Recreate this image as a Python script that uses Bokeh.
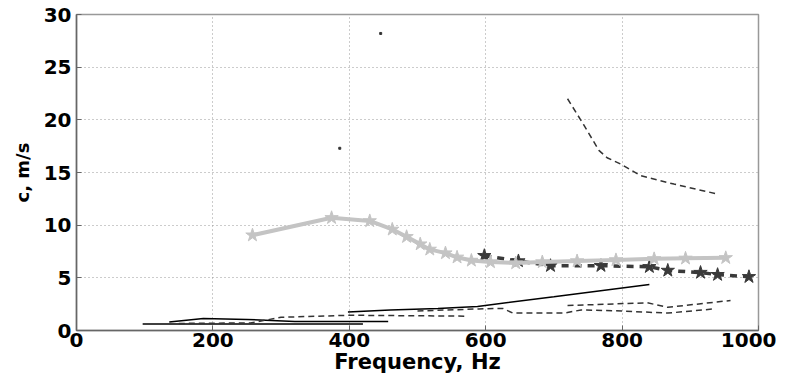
from bokeh.plotting import figure
from bokeh.embed import file_html
from bokeh.resources import INLINE
from bokeh.models import Range1d, FixedTicker

# ---- data ----
solid_a_f = [97, 420]
solid_a_c = [0.62, 0.62]

solid_b_f = [136, 186, 250, 320, 457]
solid_b_c = [0.8, 1.15, 1.05, 0.85, 0.85]

solid_c_f = [398, 460, 530, 588, 700, 840]
solid_c_c = [1.75, 1.95, 2.1, 2.28, 3.2, 4.37]

dash_a_f = [150, 255, 300, 400, 570]
dash_a_c = [0.67, 0.72, 1.25, 1.45, 1.36]

dash_b_f = [500, 590, 625, 640, 715, 740, 800, 867, 935]
dash_b_c = [1.85, 2.05, 2.1, 1.65, 1.65, 1.95, 1.85, 1.65, 2.05]

dash_c_f = [720, 837, 867, 959]
dash_c_c = [2.37, 2.63, 2.2, 2.85]

dash_top_f = [720, 744, 766, 778, 798, 827, 876, 937]
dash_top_c = [22.0, 19.5, 17.1, 16.4, 15.8, 14.7, 13.9, 13.0]

light_f = [258, 374, 430, 463, 484, 504, 518, 541, 558, 579, 607, 644, 683, 734, 791, 847, 893, 952]
light_c = [9.05, 10.7, 10.4, 9.6, 8.9, 8.2, 7.7, 7.35, 6.95, 6.65, 6.5, 6.4, 6.5, 6.6, 6.7, 6.8, 6.85, 6.9]

dark_f = [598, 648, 695, 769, 840, 867, 915, 940, 986]
dark_c = [7.1, 6.6, 6.15, 6.15, 6.05, 5.7, 5.5, 5.3, 5.1]

dot_f = [446, 386]
dot_c = [28.2, 17.3]

x_ticks = [0, 200, 400, 600, 800, 1000]
y_ticks = [0, 5, 10, 15, 20, 25, 30]

FONT = "DejaVu Sans"

p = figure(width=776, height=382, output_backend="svg", toolbar_location=None,
           x_range=Range1d(0, 1000), y_range=Range1d(0, 30),
           min_border_left=76, min_border_right=18, min_border_top=14, min_border_bottom=52)

p.outline_line_color = "#999999"
p.outline_line_width = 1.5
p.background_fill_color = "white"
p.border_fill_color = "white"

for ax in (p.xaxis[0], p.yaxis[0]):
    ax.major_label_text_font = FONT
    ax.major_label_text_font_style = "bold"
    ax.major_label_text_font_size = "20px"
    ax.major_label_text_color = "black"
    ax.axis_label_text_font = FONT
    ax.axis_label_text_font_style = "bold"
    ax.axis_label_text_color = "black"
    ax.axis_line_color = "#666666"
    ax.axis_line_width = 1.5
    ax.major_tick_in = 5
    ax.major_tick_out = 0
    ax.minor_tick_line_color = None
    ax.major_tick_line_color = "#666666"

p.xaxis.axis_label_text_font_size = "21px"
p.yaxis.axis_label_text_font_size = "18px"
p.xaxis.ticker = FixedTicker(ticks=x_ticks)
p.yaxis.ticker = FixedTicker(ticks=y_ticks)
p.xaxis.axis_label = "Frequency, Hz"
p.yaxis.axis_label = "c, m/s"
p.xaxis.major_label_standoff = 2
p.xaxis.axis_label_standoff = 0
p.yaxis.major_label_standoff = 5
p.yaxis.axis_label_standoff = 8

for g in (p.xgrid[0], p.ygrid[0]):
    g.grid_line_color = "#999999"
    g.grid_line_dash = "1 3"
    g.grid_line_width = 1

# solid lines
p.line(solid_a_f, solid_a_c, line_color="black", line_width=1.5)
p.line(solid_b_f, solid_b_c, line_color="black", line_width=1.5)
p.line(solid_c_f, solid_c_c, line_color="black", line_width=1.5)

# dashed lines
for fx, cy in ((dash_a_f, dash_a_c), (dash_b_f, dash_b_c), (dash_c_f, dash_c_c), (dash_top_f, dash_top_c)):
    p.line(fx, cy, line_color="#333333", line_width=1.5, line_dash="6 4")

# dark star series
p.line(dark_f, dark_c, line_color="#3a3a3a", line_width=3.5, line_dash="7 6")
p.scatter(dark_f, dark_c, marker="star", size=14, fill_color="#3a3a3a", line_color="#3a3a3a")

# light star series
p.line(light_f, light_c, line_color="#c4c4c4", line_width=4)
p.scatter(light_f, light_c, marker="star", size=14, fill_color="#c4c4c4", line_color="#c4c4c4")

# stray dots
p.scatter(dot_f, dot_c, marker="square", size=2, fill_color="#333333", line_color="#333333")

open("out.html", "w").write(file_html(p, INLINE))
